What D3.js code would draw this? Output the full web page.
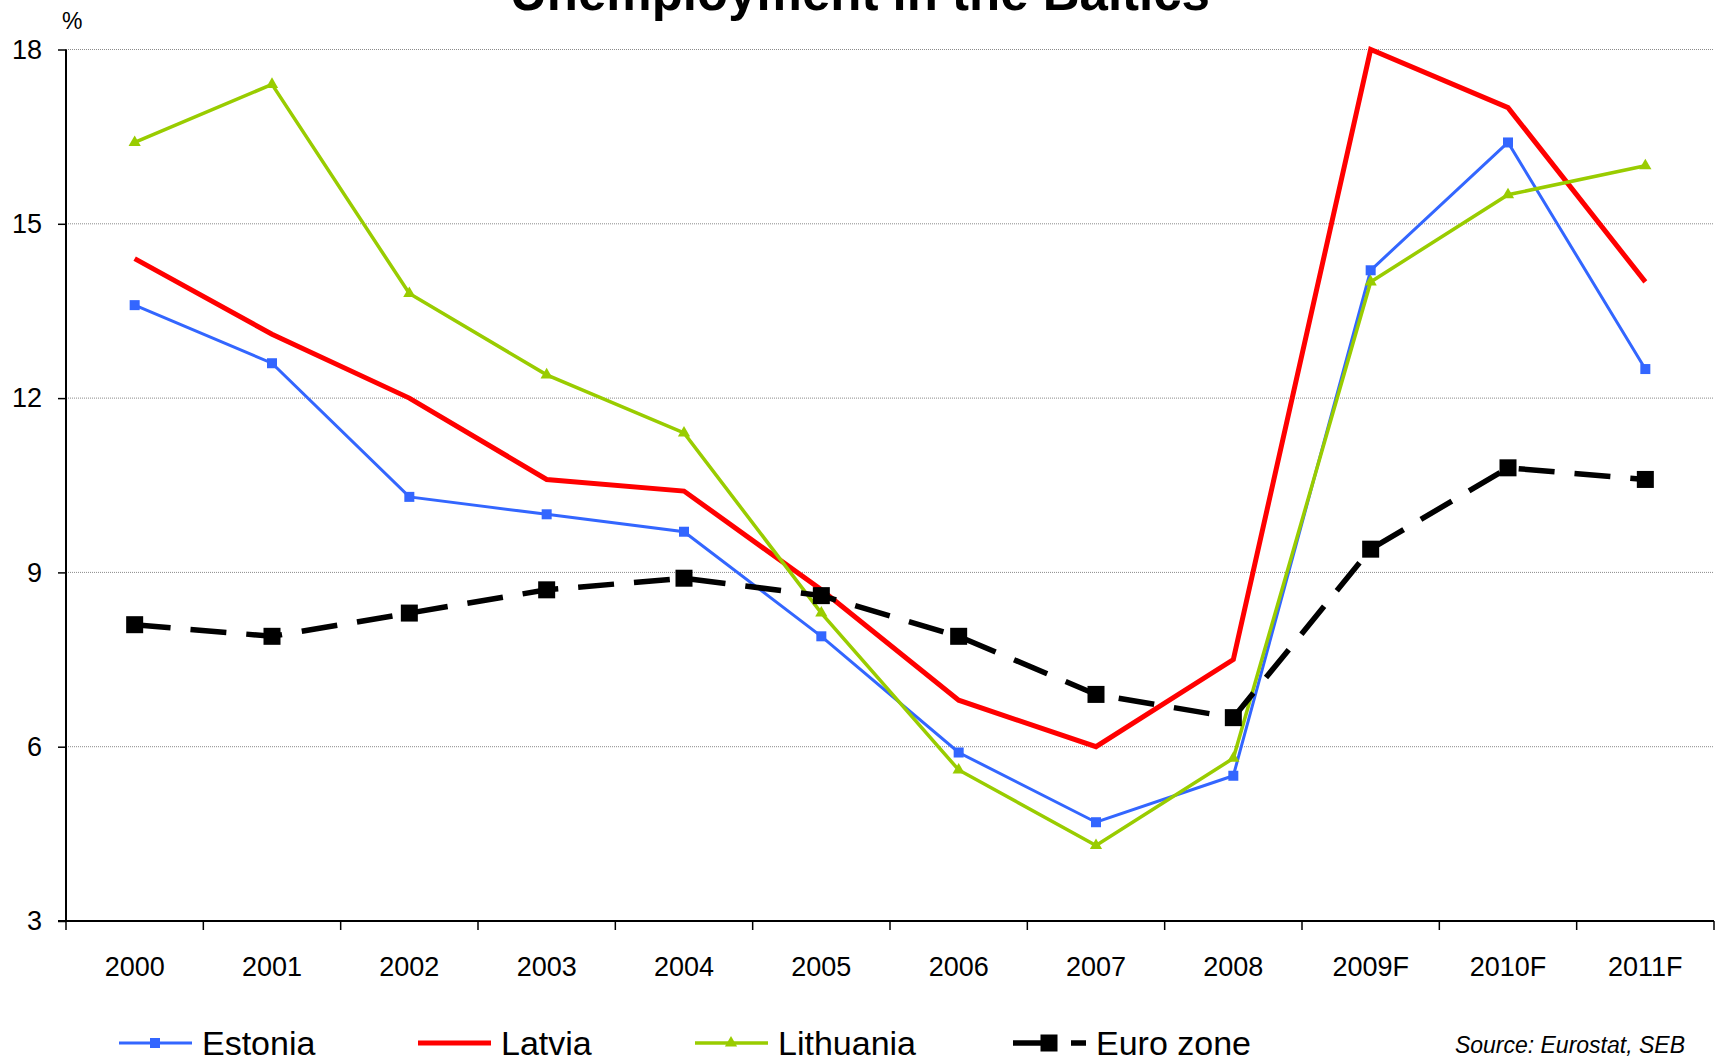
<!DOCTYPE html>
<html>
<head>
<meta charset="utf-8">
<script src="https://cdn.jsdelivr.net/npm/d3@7"></script>
<style>
  html, body { margin: 0; padding: 0; background: #fff; }
  svg { display: block; font-family: "Liberation Sans", Arial, sans-serif; }
</style>
</head>
<body>
<svg id="chart" width="1723" height="1061"></svg>
<script>
// Unemployment rate, % of labour force
const years = ["2000", "2001", "2002", "2003", "2004", "2005", "2006", "2007", "2008", "2009F", "2010F", "2011F"];
const estonia   = [13.6, 12.6, 10.3, 10.0, 9.7, 7.9, 5.9, 4.7, 5.5, 14.2, 16.4, 12.5];
const latvia    = [14.4, 13.1, 12.0, 10.6, 10.4, 8.7, 6.8, 6.0, 7.5, 18.0, 17.0, 14.0];
const lithuania = [16.4, 17.4, 13.8, 12.4, 11.4, 8.3, 5.6, 4.3, 5.8, 14.0, 15.5, 16.0];
const euroZone  = [8.1, 7.9, 8.3, 8.7, 8.9, 8.6, 7.9, 6.9, 6.5, 9.4, 10.8, 10.6];
const yTicks = [3, 6, 9, 12, 15, 18];

const series = [
  { name: "Estonia",   values: estonia,   color: "#3366FF", width: 3,   marker: "square",   size: 10, dash: null,    legendDash: null },
  { name: "Latvia",    values: latvia,    color: "#FF0000", width: 5,   marker: null,       size: 0,  dash: null,    legendDash: null },
  { name: "Lithuania", values: lithuania, color: "#99CC00", width: 3.5, marker: "triangle", size: 12, dash: null,    legendDash: null },
  { name: "Euro zone", values: euroZone,  color: "#000000", width: 5.5, marker: "square",   size: 17, dash: "36,20", legendDash: "44,14,16,20" }
];

const svg = d3.select("#chart");
const plot = { left: 66, right: 1714, top: 49.5, bottom: 921 };

const x = d3.scaleBand().domain(years).range([plot.left, plot.right]);
const y = d3.scaleLinear().domain([3, 18]).range([plot.bottom, plot.top]);

// Title (sits partly above the top edge)
svg.append("text")
  .attr("x", 860).attr("y", 10)
  .attr("text-anchor", "middle")
  .attr("font-size", 51).attr("font-weight", "bold")
  .text("Unemployment in the Baltics");

// Unit label
svg.append("text")
  .attr("x", 62).attr("y", 29)
  .attr("font-size", 23)
  .text("%");

// Horizontal gridlines
svg.append("g")
  .selectAll("line")
  .data(yTicks.filter(d => d > 3))
  .join("line")
  .attr("x1", plot.left).attr("x2", plot.right)
  .attr("y1", d => y(d)).attr("y2", d => y(d))
  .attr("stroke", "#8a8a8a").attr("stroke-width", 1)
  .attr("stroke-dasharray", "1,1");

// Y axis
const yAxis = svg.append("g")
  .attr("transform", `translate(${plot.left},0)`)
  .call(d3.axisLeft(y).tickValues(yTicks).tickSize(8).tickPadding(16).tickFormat(d3.format("d")));
yAxis.select(".domain").attr("stroke", "#000").attr("stroke-width", 2).attr("d", `M0,${plot.top}V${plot.bottom}`);
yAxis.selectAll(".tick line").attr("stroke", "#000").attr("stroke-width", 1.5);
yAxis.selectAll(".tick text").attr("font-size", 27).attr("fill", "#000")
  .attr("font-family", "Liberation Sans, Arial, sans-serif");

// X axis: ticks on category boundaries, labels centred in each band
const xAxisG = svg.append("g").attr("transform", `translate(0,${plot.bottom})`);
xAxisG.append("line")
  .attr("x1", plot.left - 8).attr("x2", plot.right)
  .attr("y1", 0).attr("y2", 0)
  .attr("stroke", "#000").attr("stroke-width", 2);
const boundaries = years.map(d => x(d)).concat([x(years[years.length - 1]) + x.bandwidth()]);
xAxisG.selectAll("line.tick")
  .data(boundaries)
  .join("line")
  .attr("class", "tick")
  .attr("x1", d => d).attr("x2", d => d)
  .attr("y1", 0).attr("y2", 9)
  .attr("stroke", "#000").attr("stroke-width", 1.5);
xAxisG.selectAll("text")
  .data(years)
  .join("text")
  .attr("x", d => x(d) + x.bandwidth() / 2)
  .attr("y", 55)
  .attr("text-anchor", "middle")
  .attr("font-size", 27)
  .text(d => d);

const cx = (d, i) => x(years[i]) + x.bandwidth() / 2;
const line = d3.line().x(cx).y(d => y(d));

function drawMarker(sel, s) {
  if (s.marker === "square") {
    sel.append("rect")
      .attr("x", -s.size / 2).attr("y", -s.size / 2)
      .attr("width", s.size).attr("height", s.size)
      .attr("fill", s.color);
  } else if (s.marker === "triangle") {
    const sym = d3.symbol().type(d3.symbolTriangle).size(s.size * s.size * 0.45);
    sel.append("path").attr("d", sym).attr("fill", s.color);
  }
}

// Series lines and markers
const layers = svg.append("g");
series.forEach(s => {
  const g = layers.append("g");
  g.append("path")
    .datum(s.values)
    .attr("d", line)
    .attr("fill", "none")
    .attr("stroke", s.color)
    .attr("stroke-width", s.width)
    .attr("stroke-linejoin", "miter")
    .attr("stroke-dasharray", s.dash);
  if (s.marker) {
    g.selectAll("g.mk")
      .data(s.values)
      .join("g")
      .attr("class", "mk")
      .attr("transform", (d, i) => `translate(${cx(d, i)},${y(d)})`)
      .each(function () { drawMarker(d3.select(this), s); });
  }
});

// Legend
const legendX = [119, 418, 695, 1013];
const legendY = 1043;
const legend = svg.append("g");
series.forEach((s, i) => {
  const g = legend.append("g").attr("transform", `translate(${legendX[i]},${legendY})`);
  g.append("line")
    .attr("x1", 0).attr("x2", 73).attr("y1", 0).attr("y2", 0)
    .attr("stroke", s.color).attr("stroke-width", s.width)
    .attr("stroke-dasharray", s.legendDash);
  if (s.marker) {
    const m = g.append("g").attr("transform", "translate(36,0)");
    drawMarker(m, s);
  }
  g.append("text")
    .attr("x", 83).attr("y", 12)
    .attr("font-size", 34)
    .text(s.name);
});

// Source note
svg.append("text")
  .attr("x", 1685).attr("y", 1053)
  .attr("text-anchor", "end")
  .attr("font-size", 23).attr("font-style", "italic")
  .text("Source: Eurostat, SEB");
</script>
</body>
</html>
